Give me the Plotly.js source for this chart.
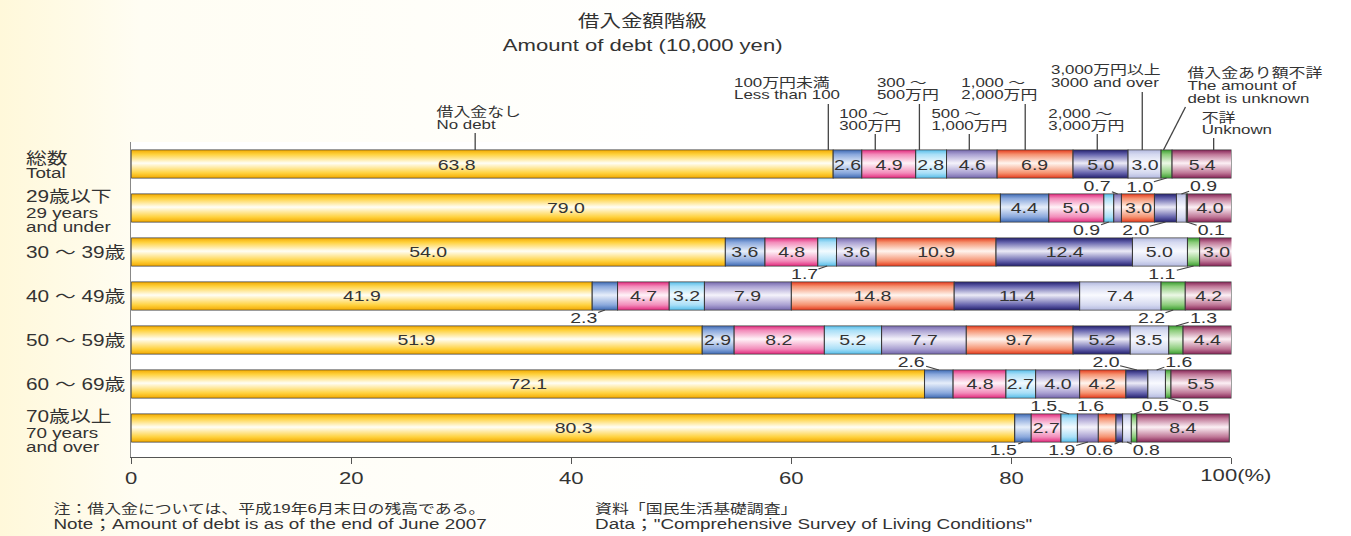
<!DOCTYPE html>
<html><head><meta charset="utf-8">
<script src="https://cdn.plot.ly/plotly-3.0.1.min.js"></script>
<style>
html,body{margin:0;padding:0;width:1351px;height:536px;overflow:hidden;
background:linear-gradient(to right,#fff8da 0px,#fffbe8 80px,#fffdf3 140px,#ffffff 700px);}
#wrap{width:1351px;height:536px;overflow:hidden;}
#chart{width:1040px;height:536px;transform:scaleX(1.2990385);transform-origin:0 0;}
</style></head><body><div id="wrap"><div id="chart"></div></div>
<script>
// ---------------- DATA ----------------
const categories = ['総数\nTotal','29歳以下\n29 years\nand under','30 ～ 39歳','40 ～ 49歳','50 ～ 59歳','60 ～ 69歳','70歳以上\n70 years\nand over'];
const seriesNames = [
  '借入金なし\nNo debt',
  '100万円未満\nLess than 100',
  '100 ～\n300万円',
  '300 ～\n500万円',
  '500 ～\n1,000万円',
  '1,000 ～\n2,000万円',
  '2,000 ～\n3,000万円',
  '3,000万円以上\n3000 and over',
  '借入金あり額不詳\nThe amount of\ndebt is unknown',
  '不詳\nUnknown'
];
const noDebt        = [63.8, 79.0, 54.0, 41.9, 51.9, 72.1, 80.3];
const under100      = [2.6, 4.4, 3.6, 2.3, 2.9, 2.6, 1.5];
const from100to300  = [4.9, 5.0, 4.8, 4.7, 8.2, 4.8, 2.7];
const from300to500  = [2.8, 0.9, 1.7, 3.2, 5.2, 2.7, 1.5];
const from500to1000 = [4.6, 0.7, 3.6, 7.9, 7.7, 4.0, 1.9];
const from1000to2000= [6.9, 3.0, 10.9, 14.8, 9.7, 4.2, 1.6];
const from2000to3000= [5.0, 2.0, 12.4, 11.4, 5.2, 2.0, 0.6];
const over3000      = [3.0, 0.9, 5.0, 7.4, 3.5, 1.6, 0.8];
const amountUnknown = [1.0, 0.1, 1.1, 2.2, 1.3, 0.5, 0.5];
const unknown       = [5.4, 4.0, 3.0, 4.2, 4.4, 5.5, 8.4];
const xTickValues = [0, 20, 40, 60, 80, 100];
const xTickLabels = ['0', '20', '40', '60', '80', '100(%)'];
const titleLines = ['借入金額階級', 'Amount of debt (10,000 yen)'];
const noteLines = ['注：借入金については、平成19年6月末日の残高である。', 'Note；Amount of debt is as of the end of June 2007'];
const sourceLines = ['資料「国民生活基礎調査」', 'Data；"Comprehensive Survey of Living Conditions"'];

const seriesValues = [noDebt, under100, from100to300, from300to500, from500to1000,
  from1000to2000, from2000to3000, over3000, amountUnknown, unknown];

// ---------------- STYLE / LAYOUT CONFIG ----------------
const S = 1351 / 1040;                 // horizontal stretch of the whole figure
const M = {l: 101, r: 92, t: 142, b: 79};
const W = 1040, H = 536;
const PW = W - M.l - M.r, PH = H - M.t - M.b;
const py = p => (H - M.b - p) / PH;           // pixel y -> paper y
const pxPaper = p => (p / S - M.l) / PW;       // page px x -> paper x
const sh = p => p / S;                          // page px offset -> figure px
const dataPerPx = 100 / (PW * S);

const FONT = '"Liberation Sans", Arial, "Noto Sans CJK JP", sans-serif';
const TXT = '#333333';

const barStyles = [
  ['#f2a900', '#ffd23f', '#fffef6'],
  ['#3d69b3', '#8aa8dc', '#e6eefa'],
  ['#e2287c', '#f28cba', '#fff3f8'],
  ['#55bde9', '#a9dff7', '#f3fbff'],
  ['#7467ac', '#aaa1d2', '#f5f3fb'],
  ['#e53a1c', '#f59270', '#fff5ef'],
  ['#23206f', '#6664ad', '#ecebf7'],
  ['#b3b9df', '#d5d9f0', '#f9faff'],
  ['#3a9e30', '#8bcc7a', '#ecf8e6'],
  ['#862456', '#bf7797', '#fcf0f5']
];

// labels drawn outside a segment: [row, series, text x offset (page px), side]
const outsideLabels = [
  [0, 8, -27, 'below'],
  [1, 3, -22, 'below'], [1, 4, -20, 'above'], [1, 6, -30, 'below'], [1, 7, 22, 'above'], [1, 8, 24, 'below'],
  [2, 3, -23, 'below'], [2, 8, -31, 'below'],
  [3, 1, -21, 'below'], [3, 8, -22, 'below'],
  [4, 8, 27, 'above'],
  [5, 1, -27, 'above'], [5, 6, -31, 'above'], [5, 7, 22, 'above'], [5, 8, 27, 'below'],
  [6, 1, -19, 'below'], [6, 3, -25, 'above'], [6, 4, -26, 'below'], [6, 5, -16, 'above'],
  [6, 6, -19, 'below'], [6, 7, 19, 'below'], [6, 8, 22, 'above']
];
const insideShift = {'0-0': -25};

// legend-style labels over the Total bar
const topLabelLayout = [
  {frac: 0.49, dx: -40, y: 112, top: 133},
  {frac: -0.17, dx: -96, y: 82, top: 104},
  {frac: 0.25, dx: -37, y: 113, top: 134},
  {frac: 0.12, dx: -44, y: 82, top: 104},
  {frac: 0.45, dx: -39, y: 113, top: 134},
  {frac: 0.37, dx: -65, y: 82, top: 104},
  {frac: 0.44, dx: -50, y: 113, top: 134},
  {frac: 0.43, dx: -92, y: 70, top: 92},
  {frac: 0.22, dx: 22, y: 73, top: 107, slant: 22},
  {frac: 0.70, dx: -13, y: 117, top: 138}
];
const catLineOffsets = {1: [1], 2: [-6, 9], 3: [-11, 5, 19.5]};

// ---------------- BUILD ----------------
const traces = seriesValues.map((vals, i) => ({
  type: 'bar', orientation: 'h', x: vals, y: categories,
  width: 0.64, name: seriesNames[i].split('\n')[0],
  marker: {color: barStyles[i][0], line: {color: '#3a3a3a', width: 0.8}},
  hoverinfo: 'skip', textposition: 'none'
}));

const starts = categories.map((c, r) => {
  let acc = 0;
  return seriesValues.map(v => { const s = acc; acc += v[r]; return s; });
});

const annotations = [];
const shapes = [];
const outsideKey = new Set(outsideLabels.map(o => o[0] + '-' + o[1]));

// value labels
categories.forEach((cat, r) => {
  seriesValues.forEach((vals, s) => {
    const key = r + '-' + s;
    if (outsideKey.has(key)) return;
    annotations.push({
      x: starts[r][s] + vals[r] / 2, y: cat, xref: 'x', yref: 'y',
      text: vals[r].toFixed(1), showarrow: false,
      xshift: sh(insideShift[key] || 0),
      font: {family: FONT, size: 15, color: TXT}
    });
  });
});
outsideLabels.forEach(([r, s, ax, side]) => {
  const up = side === 'above';
  annotations.push({
    x: starts[r][s] + seriesValues[s][r] / 2, y: categories[r], xref: 'x', yref: 'y',
    text: seriesValues[s][r].toFixed(1), showarrow: true, arrowhead: 0,
    arrowwidth: 1, arrowcolor: '#444', ax: sh(ax), ay: up ? -8 : 8,
    yshift: up ? 14 : -14, borderpad: 0,
    font: {family: FONT, size: 15, color: TXT}
  });
});

// category labels (left)
categories.forEach((cat, r) => {
  const lines = cat.split('\n');
  const offs = catLineOffsets[lines.length];
  lines.forEach((ln, k) => {
    annotations.push({
      x: pxPaper(25), xref: 'paper', xanchor: 'left', y: cat, yref: 'y',
      yshift: -offs[k], text: ln, showarrow: false, borderpad: 0,
      font: {family: FONT, size: k === 0 ? 16 : 14.5, color: TXT}
    });
  });
});

// top labels with leader lines
seriesNames.forEach((nm, s) => {
  const L = topLabelLayout[s];
  const lx = starts[0][s] + L.frac * seriesValues[s][0];
  shapes.push({type: 'line', xref: 'x', yref: 'paper', x0: lx, y0: py(150),
    x1: lx + (L.slant || 0) * dataPerPx, y1: py(L.top), line: {color: '#444', width: 1}});
  nm.split('\n').forEach((ln, k) => {
    annotations.push({
      x: lx, xref: 'x', xshift: sh(L.dx), xanchor: 'left', y: py(L.y + 12.5 * k), yref: 'paper',
      yanchor: 'middle', text: ln, showarrow: false, borderpad: 0,
      font: {family: FONT, size: 13, color: TXT}
    });
  });
});

// title
titleLines.forEach((t, k) => annotations.push({
  x: pxPaper(643), xref: 'paper', xanchor: 'center', y: py(k ? 45 : 21), yref: 'paper', yanchor: 'middle',
  text: t, showarrow: false, font: {family: FONT, size: k ? 17 : 16.5, color: TXT}
}));
// last tick label with unit
annotations.push({
  x: xTickValues[xTickValues.length - 1], xref: 'x', xanchor: 'left', xshift: sh(-32),
  y: py(475), yref: 'paper', yanchor: 'middle', text: xTickLabels[xTickLabels.length - 1],
  showarrow: false, borderpad: 0, font: {family: FONT, size: 17, color: TXT}
});
// notes
[[noteLines, 52], [sourceLines, 594]].forEach(([lines, x]) => lines.forEach((t, k) => annotations.push({
  x: pxPaper(x), xref: 'paper', xanchor: 'left', y: py(k ? 524 : 508), yref: 'paper', yanchor: 'middle',
  text: t, showarrow: false, borderpad: 0,
  font: {family: FONT, size: k ? 14.5 : 13, color: TXT}
})));

const layout = {
  width: W, height: H, margin: {l: M.l, r: M.r, t: M.t, b: M.b, pad: 0},
  paper_bgcolor: 'rgba(0,0,0,0)', plot_bgcolor: '#ffffff',
  barmode: 'stack', showlegend: false, font: {family: FONT, color: TXT},
  xaxis: {range: [0, 100], tickmode: 'array', tickvals: xTickValues,
    ticktext: xTickLabels.map((t, i) => i === xTickLabels.length - 1 ? '' : t),
    ticks: 'outside', ticklen: 6, tickcolor: '#555', tickwidth: 1,
    showline: true, linecolor: '#555', linewidth: 1, showgrid: false, zeroline: false,
    tickfont: {family: FONT, size: 17, color: TXT}, fixedrange: true},
  yaxis: {type: 'category', categoryorder: 'array', categoryarray: categories,
    range: [6.66, -0.5], autorange: false, showticklabels: false, ticks: '',
    showline: true, linecolor: '#888', linewidth: 1, showgrid: false, zeroline: false, fixedrange: true},
  annotations: annotations, shapes: shapes
};

const gd = document.getElementById('chart');
const NS = 'http://www.w3.org/2000/svg';
function applyGradients() {
  const svg = gd.querySelector('svg.main-svg');
  if (!svg) return;
  let defs = svg.querySelector('defs');
  if (!defs) { defs = document.createElementNS(NS, 'defs'); svg.insertBefore(defs, svg.firstChild); }
  if (!svg.querySelector('#bargrad0')) {
    barStyles.forEach((c, i) => {
      const lg = document.createElementNS(NS, 'linearGradient');
      lg.setAttribute('id', 'bargrad' + i);
      lg.setAttribute('x1', '0'); lg.setAttribute('y1', '0');
      lg.setAttribute('x2', '0'); lg.setAttribute('y2', '1');
      [[0, c[0]], [0.16, c[1]], [0.47, c[2]], [0.82, c[1]], [1, c[0]]].forEach(([o, col]) => {
        const st = document.createElementNS(NS, 'stop');
        st.setAttribute('offset', o); st.setAttribute('stop-color', col);
        lg.appendChild(st);
      });
      defs.appendChild(lg);
    });
  }
  gd.querySelectorAll('.barlayer .trace').forEach((tr, j) => {
    let idx = j;
    try { idx = tr.__data__[0].trace.index; } catch (e) {}
    tr.querySelectorAll('path').forEach(p => { p.style.fill = 'url(#bargrad' + idx + ')'; });
  });
}
Plotly.newPlot(gd, traces, layout, {displayModeBar: false, staticPlot: true}).then(() => {
  applyGradients();
  gd.on && gd.on('plotly_afterplot', applyGradients);
});
</script></body></html>
